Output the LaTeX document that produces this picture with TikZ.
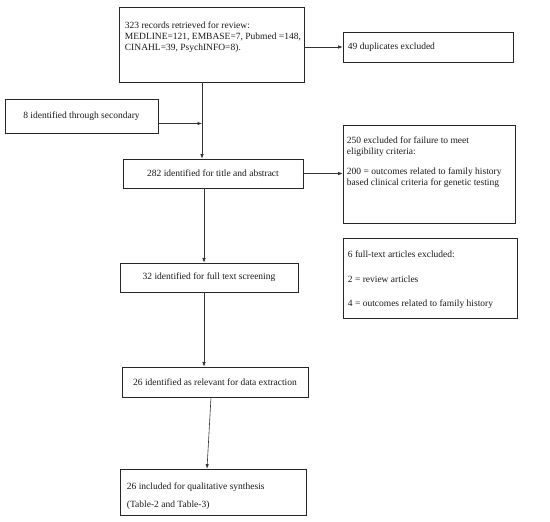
\documentclass[tikz,border=0pt]{standalone}
\usepackage{fontspec}
\setmainfont{Liberation Serif}
\usetikzlibrary{arrows.meta,calc}
\begin{document}
\begin{tikzpicture}[x=1pt,y=1pt,
  box/.style={draw=black!85,line width=0.6pt,rectangle,inner sep=0pt},
  txt/.style={inner sep=0pt,font=\fontsize{9.5}{11}\selectfont,text=black!90,align=left},
  arr/.style={draw=black!80,line width=0.6pt,-{Latex[length=4.5pt,width=3.5pt]}}]
\useasboundingbox (0,0) rectangle (550,-522);
% boxes
\node[box,minimum width=185,minimum height=75] (b1) at (211.5,-44.5) {};
\node[box,minimum width=170,minimum height=30] (dup) at (428,-47) {};
\node[box,minimum width=153,minimum height=34] (sec) at (81.5,-116) {};
\node[box,minimum width=180,minimum height=29] (b282) at (213,-173.5) {};
\node[box,minimum width=172,minimum height=98] (b250) at (429,-174) {};
\node[box,minimum width=174,minimum height=80] (b6) at (430,-278) {};
\node[box,minimum width=178,minimum height=29] (b32) at (209,-277.5) {};
\node[box,minimum width=186,minimum height=30] (b26r) at (215,-382) {};
\node[box,minimum width=186,minimum height=46] (b26i) at (213,-492) {};
% texts
\node[txt,anchor=north west] (t1) at ($(b1.north west)+(6,-15)$) {323 records retrieved for review:\\MEDLINE=121, EMBASE=7, Pubmed =148,\\CINAHL=39, PsychINFO=8).};
\node[txt,anchor=west] (tdup) at ($(dup.west)+(5,0)$) {49 duplicates excluded};
\node[txt] (tsec) at (sec.center) {8 identified through secondary};
\node[txt] (t282) at (b282.center) {282 identified for title and abstract};
\node[txt,anchor=north west] (t250) at ($(b250.north west)+(4,-12)$) {250 excluded for failure to meet\\eligibility criteria:\\[9pt]200 = outcomes related to family history\\based clinical criteria for genetic testing};
\node[txt,anchor=north west,font=\fontsize{9.5}{24.5}\selectfont] (t6) at ($(b6.north west)+(5,-13)$) {6 full-text articles excluded:\\2 = review articles\\4 = outcomes related to family history};
\node[txt] (t32) at (b32.center) {32 identified for full text screening};
\node[txt] (t26r) at (b26r.center) {26 identified as relevant for data extraction};
\node[txt,anchor=north west,font=\fontsize{9.5}{18}\selectfont] (t26i) at ($(b26i.north west)+(7,-14)$) {26 included for qualitative synthesis\\(Table-2 and Table-3)};
% connectors
\coordinate (mx) at (202,0);
\coordinate (j) at (202,-123.5);
\coordinate (mx2) at (204,0);
\draw[arr] (mx |- b1.south) -- (mx |- b282.north);
\draw[arr] (sec.east |- j) -- (j);
\draw[arr] (b1.east |- dup.west) -- (dup.west);
\draw[arr] (b282.east) -- (b282.east -| b250.west);
\draw[arr] (mx2 |- b282.south) -- (mx2 |- b32.north);
\draw[arr] (mx2 |- b32.south) -- (mx2 |- b26r.north);
\draw[arr] ($(b26r.south)+(-4,0)$) -- ($(b26i.north)+(-6,0)$);
\end{tikzpicture}
\end{document}
